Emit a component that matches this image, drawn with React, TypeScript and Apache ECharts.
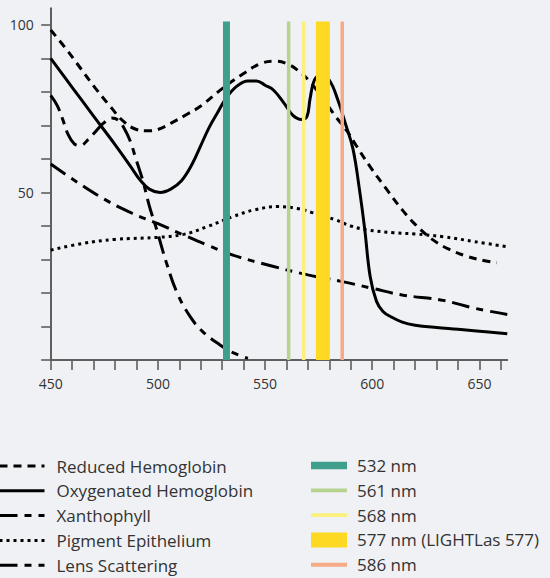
import React, { useEffect, useRef } from "react";
import * as echarts from "echarts";

// ---- data (wavelength nm, relative absorption %) ----
const reducedHemoglobin: number[][] = [
  [450, 98.5], [457, 93], [464, 87], [471, 81], [478, 75.5], [484, 71.2], [490, 68.8],
  [495, 68.4], [500, 68.8], [507, 71], [514, 73.5], [520, 75.8], [530, 81], [540, 85.5],
  [548, 88.5], [555, 89.2], [560, 88.5], [565, 86.6], [571, 83], [577, 78], [583, 72.6],
  [588, 68.5], [592, 64.5], [599, 57.7], [607, 50.7], [614, 44.8], [620, 40.5], [628, 36],
  [636, 33], [644, 31], [651, 29.8], [658, 29]
];
const oxygenatedHemoglobin: number[][] = [
  [450, 90], [460, 81.4], [470, 72.8], [480, 64.3], [487, 58], [492, 53.5], [496, 51],
  [501, 50], [506, 51], [511, 53.5], [516, 58.5], [520, 64], [524, 69.5], [528, 74],
  [532, 78.3], [537, 81.8], [542, 83.3], [546, 83.3], [550, 82], [554, 80.5], [559, 76.5],
  [563, 73], [567, 71.8], [569.5, 72.6], [571, 78], [573, 83.5], [576, 85], [580, 83.5],
  [584, 77.5], [587.5, 70.5], [591, 63], [594, 51], [596.5, 39], [599, 25], [602, 17.5],
  [605, 14.5], [609, 12.8], [614, 11.3], [620, 10.4], [630, 9.7], [640, 9.2], [650, 8.6],
  [663, 7.8]
];
const xanthophyll: number[][] = [
  [450, 79], [453, 76], [455.5, 72], [458, 67.5], [461, 64.5], [464, 64], [467, 65.5],
  [470, 67.5], [474.5, 70.6], [478.5, 72.2], [481.5, 71.6], [484, 69.5], [487, 65.5],
  [490, 59.5], [493, 53.5], [496, 46], [499.5, 38.8], [504, 29], [509, 20], [515, 13],
  [521, 8.4], [529, 4.5], [535, 2.2], [542, 0.5]
];
const pigmentEpithelium: number[][] = [
  [450, 32.8], [465, 34.8], [480, 36], [500, 36.6], [512, 37.5], [523, 39.8], [535, 42.8],
  [545, 44.8], [556, 45.8], [565, 45.2], [572, 44], [583, 41.8], [590, 40], [598, 38.8],
  [610, 38], [620, 37.6], [633, 36.8], [648, 35.3], [663, 33.8]
];
const lensScattering: number[][] = [
  [450, 58.5], [463, 52.8], [475, 48], [488, 43.8], [500, 40.7], [512, 37.3], [523, 34.3],
  [535, 31.3], [554, 27.9], [570, 25.4], [586, 23.4], [600, 21.4], [614, 19.4], [633, 17.8],
  [648, 15.4], [663, 13.6]
];

const curveNames = [
  "Reduced Hemoglobin",
  "Oxygenated Hemoglobin",
  "Xanthophyll",
  "Pigment Epithelium",
  "Lens Scattering",
];
const curveData = [reducedHemoglobin, oxygenatedHemoglobin, xanthophyll, pigmentEpithelium, lensScattering];

const laserWavelengths = [532, 561, 568, 577, 586];
const laserNames = ["532 nm", "561 nm", "568 nm", "577 nm (LIGHTLas 577)", "586 nm"];
const laserTop = 101;

const xTickValues = [450, 460, 470, 480, 490, 500, 510, 520, 530, 540, 550, 560, 570, 580, 590, 600, 610, 620, 630, 640, 650, 660];
const xLabelValues = [450, 500, 550, 600, 650];
const yTickValues = [0, 10, 20, 30, 40, 50, 60, 70, 80, 90, 100];
const yLabelValues = [50, 100];

// ---- styles ----
const BG = "#f0f1f4";
const FONT = "Open Sans";
const LEGEND_FONT_SIZE = 17;
const curveDash: any[] = [[8, 6], "solid", [18, 7, 7, 7], [3, 4], [18, 7, 7, 7]];
const laserColors = ["#3f9f8c", "#b6d48f", "#fbf07c", "#fed923", "#f6ab86"];
const laserWidths = [7, 3.5, 3.5, 14, 3.5];
const laserIconHeights = [7.5, 3.7, 3.7, 15, 3.9];

export default function App() {
  const ref = useRef<HTMLDivElement>(null);

  useEffect(() => {
    if (!ref.current) return;
    const chart = echarts.init(ref.current, null, { renderer: "svg" });

    const curveSeries = curveNames.map((name, i) => ({
      type: "line",
      name,
      data: curveData[i],
      smooth: 0.4,
      symbol: "none",
      color: "#000",
      lineStyle: { color: "#000", width: 3, type: curveDash[i], cap: "butt" },
      z: 2,
    }));

    const laserSeries = laserNames.map((name, i) => ({
      type: "line",
      name,
      data: [
        [laserWavelengths[i], 0],
        [laserWavelengths[i], laserTop],
      ],
      symbol: "none",
      color: laserColors[i],
      lineStyle: { color: laserColors[i], width: laserWidths[i], cap: "butt" },
      z: 3,
    }));

    const axisColor = "#5f5f5f";

    chart.setOption({
      animation: false,
      backgroundColor: BG,
      textStyle: { fontFamily: FONT },
      grid: { left: 50.7, right: 42.7, top: 8.2, bottom: 218, containLabel: false },
      xAxis: {
        type: "value",
        min: 450,
        max: 663,
        axisLine: { show: true, lineStyle: { color: axisColor, width: 2 } },
        axisTick: {
          show: true,
          length: 10,
          customValues: xTickValues,
          lineStyle: { color: axisColor, width: 1.6 },
        },
        axisLabel: {
          customValues: xLabelValues,
          margin: 16,
          fontSize: 14,
          color: "#333",
          fontFamily: FONT,
        },
        splitLine: { show: false },
      },
      yAxis: {
        type: "value",
        min: 0,
        max: 105,
        axisLine: { show: true, lineStyle: { color: axisColor, width: 2 } },
        axisTick: {
          show: true,
          length: 9.5,
          customValues: yTickValues,
          lineStyle: { color: axisColor, width: 1.6 },
        },
        axisLabel: {
          customValues: yLabelValues,
          margin: 17,
          fontSize: 14,
          color: "#333",
          fontFamily: FONT,
        },
        splitLine: { show: false },
      },
      legend: [
        {
          orient: "vertical",
          left: -2,
          top: 457.5,
          height: 200,
          padding: 0,
          itemWidth: 45,
          itemHeight: 14,
          itemGap: 7.8,
          selectedMode: false,
          data: curveNames,
          lineStyle: { width: 3 },
          itemStyle: { color: "transparent", borderWidth: 0, opacity: 0 },
          textStyle: {
            fontFamily: FONT,
            fontSize: LEGEND_FONT_SIZE,
            color: "#333",
            padding: [0, 0, 0, 7],
          },
        },
        {
          orient: "vertical",
          left: 311,
          top: 457,
          height: 200,
          padding: 0,
          itemWidth: 36,
          itemHeight: 15,
          itemGap: 7.8,
          selectedMode: false,
          symbolKeepAspect: true,
          itemStyle: { borderWidth: 0 },
          data: laserNames.map((n, i) => ({
            name: n,
            icon: `path://M0 0H36V${laserIconHeights[i]}H0Z`,
          })),
          textStyle: {
            fontFamily: FONT,
            fontSize: LEGEND_FONT_SIZE,
            color: "#333",
            padding: [0, 0, 0, 5],
          },
        },
      ],
      series: [...curveSeries, ...laserSeries],
    });

    return () => chart.dispose();
  }, []);

  return (
    <div
      ref={ref}
      style={{ position: "fixed", left: 0, top: 0, width: 550, height: 578, background: BG }}
    />
  );
}
